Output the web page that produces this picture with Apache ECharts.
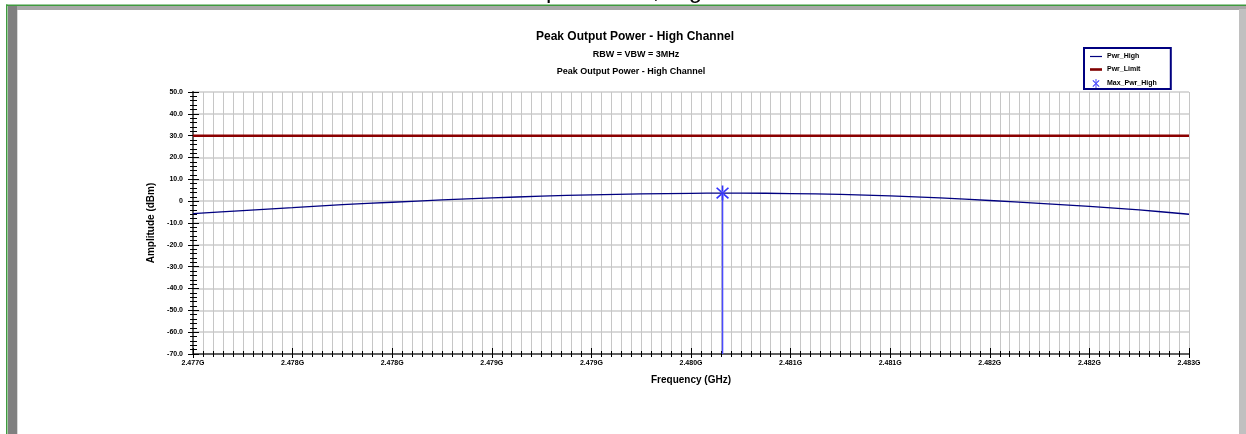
<!DOCTYPE html>
<html>
<head>
<meta charset="utf-8">
<title>Peak Output Power - High Channel</title>
<script src="https://cdn.jsdelivr.net/npm/echarts@6/dist/echarts.min.js"></script>
<style>
    html, body { margin: 0; padding: 0; background: #fff; }
    #chart { width: 1246px; height: 434px; }
</style>
</head>
<body>
<div id="chart"></div>
<script>
const freqGHz = [2.4770, 2.4773, 2.4776, 2.4779, 2.4782, 2.4785, 2.4788, 2.4791, 2.4794, 2.4797,
                 2.4800, 2.48019, 2.4803, 2.4806, 2.4809, 2.4812, 2.4815, 2.4818, 2.4821, 2.4824,
                 2.4827, 2.4830];
const pwrHigh = [-5.7, -4.3, -3.0, -1.6, -0.5, 0.6, 1.5, 2.3, 2.9, 3.3,
                 3.6, 3.7, 3.7, 3.5, 3.1, 2.4, 1.5, 0.3, -1.0, -2.4,
                 -4.0, -6.0];
const limitFreq = [2.4770, 2.4830];
const limitValues = [30, 30];
const maxFreq = [2.48019, 2.48019];
const maxValues = [3.7, -70];

const baseGHz = 2.477;         // x axis runs in kHz from here so ticks start at min
const toK = (f) => Math.round((f - baseGHz) * 1e6);
const pairs = (xs, ys) => xs.map((f, i) => [toK(f), ys[i]]);

const font = 'Liberation Sans, Arial, sans-serif';
const star = 'path://M-1,-10L1,-10L1,10L-1,10Z M6.36,7.78L7.78,6.36L-6.36,-7.78L-7.78,-6.36Z M7.78,-6.36L6.36,-7.78L-7.78,6.36L-6.36,7.78Z';

let chart = echarts.init(document.getElementById('chart'));

let xBase = {
    type: 'value',
    min: 0,
    max: 6000,
    interval: 600,
    position: 'bottom',
    axisLine: { onZero: false, lineStyle: { color: '#606060', width: 2 } }
};
let yBase = {
    type: 'value',
    min: -70,
    max: 50,
    interval: 10,
    position: 'left',
    axisLine: { onZero: false, lineStyle: { color: '#606060', width: 2 } }
};

chart.setOption({
    animation: false,
    textStyle: { fontFamily: font },
    title: [
        {
            text: 'Peak Output Power - High Channel',
            left: 630, top: 26, textAlign: 'center',
            textStyle: { fontSize: 12, fontWeight: 'bold', color: '#000', fontFamily: font }
        },
        {
            text: 'RBW = VBW = 3MHz',
            left: 631, top: 45, textAlign: 'center',
            textStyle: { fontSize: 9, fontWeight: 'bold', color: '#000', fontFamily: font }
        },
        {
            text: 'Peak Output Power - High Channel',
            left: 626, top: 62, textAlign: 'center',
            textStyle: { fontSize: 9, fontWeight: 'bold', color: '#000', fontFamily: font }
        }
    ],
    graphic: [
        { type: 'text', left: 446, top: -21, z: 1,
          style: { text: 'Peak Output Power, High Channel', font: '24px ' + font, fill: '#000' } },
        { type: 'rect', shape: { x: 8, y: 6, width: 1238, height: 4 }, style: { fill: '#a8a8a8' }, z: 2 },
        { type: 'rect', shape: { x: 8, y: 6, width: 9, height: 428 }, style: { fill: '#808080' }, z: 2 },
        { type: 'rect', shape: { x: 17, y: 10, width: 1, height: 424 }, style: { fill: '#d8d8d8' }, z: 2 },
        { type: 'rect', shape: { x: 1239, y: 9, width: 7, height: 425 }, style: { fill: '#c0c0c0' }, z: 2 },
        { type: 'rect', shape: { x: 6, y: 4.5, width: 1240, height: 1.5 }, style: { fill: '#3f9a3f' }, z: 3 },
        { type: 'rect', shape: { x: 6, y: 4.5, width: 1.5, height: 430 }, style: { fill: '#3f9a3f' }, z: 3 }
    ],
    legend: {
        orient: 'vertical',
        left: 1084,
        top: 48,
        itemGap: 6,
        itemWidth: 12,
        itemHeight: 9,
        padding: [5, 14, 1, 6],
        backgroundColor: '#fff',
        borderColor: '#000080',
        borderWidth: 2,
        textStyle: { fontSize: 7, fontWeight: 'bold', color: '#000', fontFamily: font },
        data: [
            { name: 'Pwr_High', icon: 'path://M0,0H12V1.2H0Z' },
            { name: 'Pwr_Limit', icon: 'path://M0,0H12V2.6H0Z' },
            { name: 'Max_Pwr_High', icon: star }
        ]
    },
    grid: { left: 193, right: 57, top: 92, bottom: 80 },
    xAxis: [
        Object.assign({}, xBase, {
            name: 'Frequency (GHz)',
            nameLocation: 'middle',
            nameGap: 21,
            nameTextStyle: { fontSize: 10, fontWeight: 'bold', color: '#000', fontFamily: font },
            axisTick: { show: true, length: 4, lineStyle: { color: '#000' } },
            minorTick: { show: true, splitNumber: 10, length: 3, lineStyle: { color: '#000' } },
            axisLabel: {
                margin: 6, fontSize: 7, fontWeight: 'bold', color: '#000', fontFamily: font,
                formatter: (v) => (baseGHz + v / 1e6).toFixed(3) + 'G'
            },
            splitLine: { show: true, lineStyle: { color: '#c6c6c6', width: 1 } },
            minorSplitLine: { show: true, lineStyle: { color: '#c6c6c6', width: 1 } }
        }),
        Object.assign({}, xBase, {
            axisTick: { show: true, inside: true, length: 6, lineStyle: { color: '#000' } },
            minorTick: { show: true, splitNumber: 10, length: 3, lineStyle: { color: '#000' } },
            axisLabel: { show: false },
            splitLine: { show: false }
        })
    ],
    yAxis: [
        Object.assign({}, yBase, {
            name: 'Amplitude (dBm)',
            nameLocation: 'middle',
            nameGap: 35,
            nameTextStyle: { fontSize: 10, fontWeight: 'bold', color: '#000', fontFamily: font },
            axisTick: { show: true, length: 5, lineStyle: { color: '#000' } },
            minorTick: { show: true, splitNumber: 5, length: 3, lineStyle: { color: '#000' } },
            axisLabel: {
                margin: 10, fontSize: 7, fontWeight: 'bold', color: '#000', fontFamily: font,
                formatter: (v) => v === 0 ? '0' : v.toFixed(1)
            },
            splitLine: { show: true, lineStyle: { color: '#cccccc', width: 1.5 } }
        }),
        Object.assign({}, yBase, {
            axisTick: { show: true, inside: true, length: 6, lineStyle: { color: '#000' } },
            minorTick: { show: true, splitNumber: 5, length: 4, lineStyle: { color: '#000' } },
            axisLabel: { show: false },
            splitLine: { show: false }
        })
    ],
    series: [
        {
            name: 'Pwr_High',
            type: 'line',
            showSymbol: false,
            symbol: 'none',
            smooth: 0.3,
            color: '#000080',
            lineStyle: { color: '#000080', width: 1.3 },
            data: pairs(freqGHz, pwrHigh),
            z: 3
        },
        {
            name: 'Pwr_Limit',
            type: 'line',
            symbol: 'none',
            color: '#800000',
            lineStyle: { color: '#8b0000', width: 2.5 },
            data: pairs(limitFreq, limitValues),
            z: 3
        },
        {
            name: 'Max_Pwr_High',
            type: 'line',
            color: '#3333ff',
            symbol: (v, p) => p.dataIndex === 0 ? star : 'none',
            symbolSize: [13, 15],
            showAllSymbol: true,
            itemStyle: { color: '#3333ff' },
            lineStyle: { color: '#4a4aff', width: 1.5 },
            data: pairs(maxFreq, maxValues),
            z: 4
        }
    ]
});
</script>
</body>
</html>
